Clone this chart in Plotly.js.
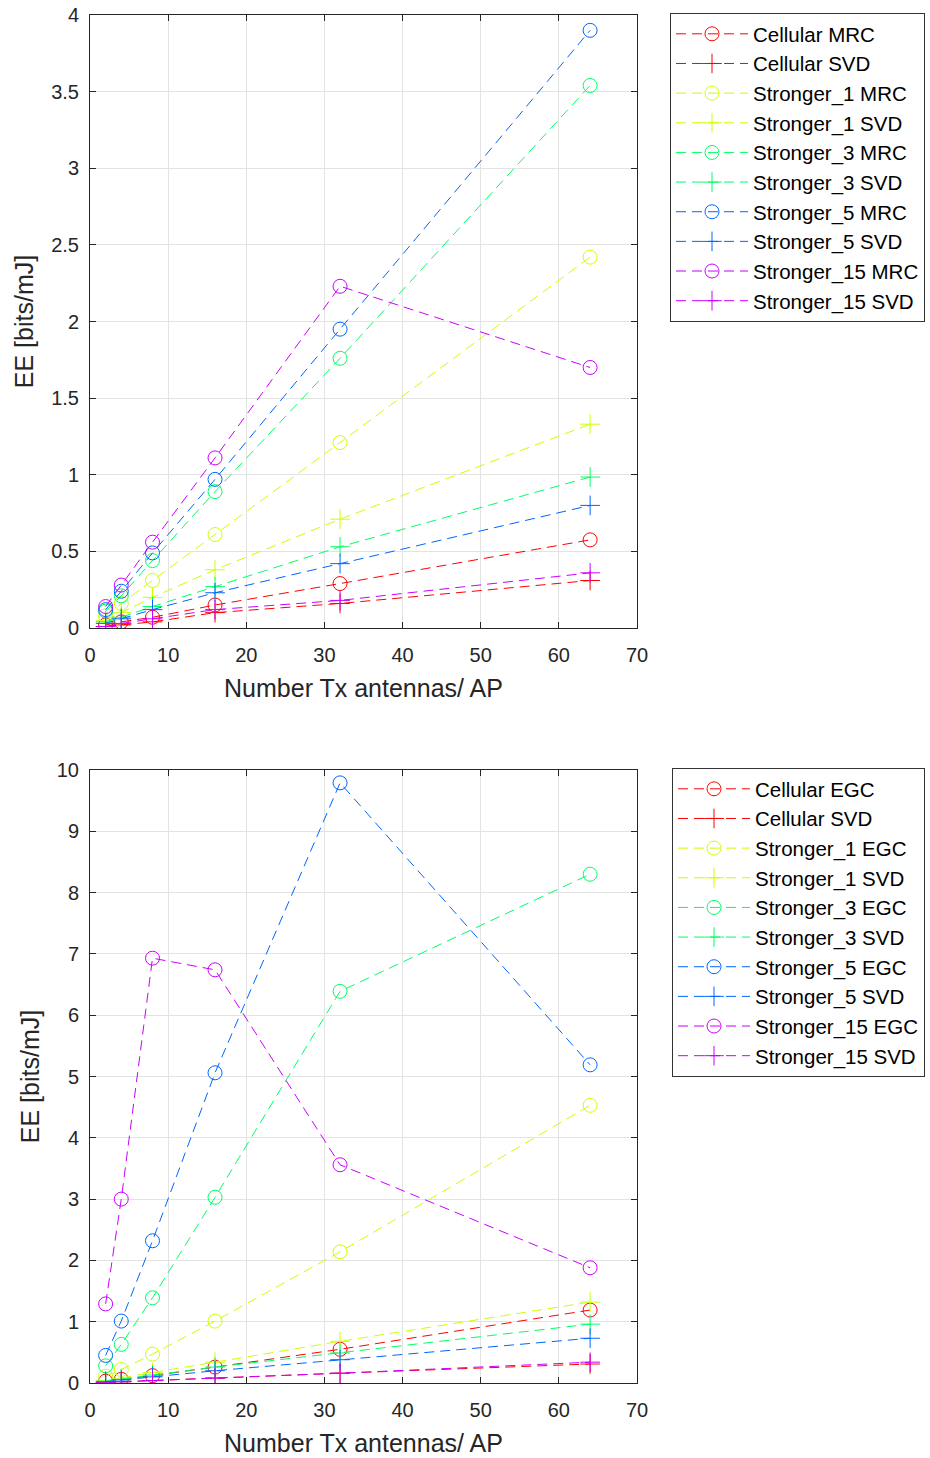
<!DOCTYPE html>
<html>
<head>
<meta charset="utf-8">
<script src="https://cdn.plot.ly/plotly-3.0.1.min.js"></script>
<style>html,body{margin:0;padding:0;background:#fff}#chart{width:930px;height:1458px}</style>
</head>
<body>
<div id="chart"></div>
<script>
// x values: number of Tx antennas per AP
const antennas = [2, 4, 8, 16, 32, 64];

// Top plot (MRC / SVD)
const cellularMRC    = [0.02, 0.04, 0.07, 0.15, 0.29, 0.575];
const cellularSVD1   = [0.01, 0.02, 0.04, 0.10, 0.16, 0.31];
const stronger1MRC   = [0.08, 0.16, 0.31, 0.61, 1.21, 2.42];
const stronger1SVD1  = [0.05, 0.10, 0.20, 0.38, 0.71, 1.33];
const stronger3MRC   = [0.11, 0.21, 0.44, 0.89, 1.76, 3.54];
const stronger3SVD1  = [0.04, 0.07, 0.14, 0.27, 0.53, 0.985];
const stronger5MRC   = [0.12, 0.24, 0.49, 0.97, 1.95, 3.90];
const stronger5SVD1  = [0.03, 0.06, 0.12, 0.23, 0.42, 0.80];
const stronger15MRC  = [0.14, 0.28, 0.56, 1.11, 2.23, 1.70];
const stronger15SVD1 = [0.01, 0.03, 0.06, 0.12, 0.18, 0.36];

// Bottom plot (EGC / SVD)
const cellularEGC    = [0.03, 0.06, 0.12, 0.26, 0.55, 1.19];
const cellularSVD2   = [0.01, 0.02, 0.04, 0.08, 0.16, 0.31];
const stronger1EGC   = [0.11, 0.22, 0.47, 1.01, 2.14, 4.53];
const stronger1SVD2  = [0.04, 0.08, 0.17, 0.34, 0.68, 1.32];
const stronger3EGC   = [0.28, 0.63, 1.39, 3.03, 6.39, 8.30];
const stronger3SVD2  = [0.03, 0.06, 0.13, 0.26, 0.49, 0.96];
const stronger5EGC   = [0.45, 1.01, 2.32, 5.06, 9.79, 5.19];
const stronger5SVD2  = [0.02, 0.05, 0.10, 0.20, 0.38, 0.73];
const stronger15EGC  = [1.29, 3.00, 6.93, 6.74, 3.56, 1.88];
const stronger15SVD2 = [0.01, 0.02, 0.04, 0.08, 0.16, 0.34];

const colors = ['#ff0000', '#ccff00', '#00ff66', '#0066ff', '#cc00ff'];

const topSeries = [
  ['Cellular MRC', cellularMRC, 0, 'o'], ['Cellular SVD', cellularSVD1, 0, '+'],
  ['Stronger_1 MRC', stronger1MRC, 1, 'o'], ['Stronger_1 SVD', stronger1SVD1, 1, '+'],
  ['Stronger_3 MRC', stronger3MRC, 2, 'o'], ['Stronger_3 SVD', stronger3SVD1, 2, '+'],
  ['Stronger_5 MRC', stronger5MRC, 3, 'o'], ['Stronger_5 SVD', stronger5SVD1, 3, '+'],
  ['Stronger_15 MRC', stronger15MRC, 4, 'o'], ['Stronger_15 SVD', stronger15SVD1, 4, '+']
];
const bottomSeries = [
  ['Cellular EGC', cellularEGC, 0, 'o'], ['Cellular SVD', cellularSVD2, 0, '+'],
  ['Stronger_1 EGC', stronger1EGC, 1, 'o'], ['Stronger_1 SVD', stronger1SVD2, 1, '+'],
  ['Stronger_3 EGC', stronger3EGC, 2, 'o'], ['Stronger_3 SVD', stronger3SVD2, 2, '+'],
  ['Stronger_5 EGC', stronger5EGC, 3, 'o'], ['Stronger_5 SVD', stronger5SVD2, 3, '+'],
  ['Stronger_15 EGC', stronger15EGC, 4, 'o'], ['Stronger_15 SVD', stronger15SVD2, 4, '+']
];

function mk(s, xa, ya, leg) {
  const c = colors[s[2]];
  return {
    x: antennas, y: s[1], name: s[0], type: 'scatter', mode: 'lines+markers',
    xaxis: xa, yaxis: ya, legend: leg,
    line: {color: c, width: 1, dash: '10px,6px'},
    marker: {
      symbol: s[3] === 'o' ? 'circle-open' : 'cross-thin-open',
      size: 14, color: c, line: {color: c, width: 1}
    }
  };
}

const data = topSeries.map(s => mk(s, 'x', 'y', 'legend'))
  .concat(bottomSeries.map(s => mk(s, 'x2', 'y2', 'legend2')));

const W = 930, H = 1458;
const axCol = '#262626';
const tickFont = {family: 'Liberation Sans, Arial, sans-serif', size: 20, color: axCol};
const titleFont = {family: 'Liberation Sans, Arial, sans-serif', size: 25, color: axCol};

function xax(anchor) {
  return {
    anchor: anchor, domain: [90 / W, 637 / W], range: [0, 70], dtick: 10, tick0: 0,
    showgrid: true, gridcolor: '#e3e3e3', gridwidth: 1,
    showline: true, linecolor: axCol, linewidth: 1, mirror: 'ticks',
    ticks: 'inside', ticklen: 6, tickcolor: axCol, zeroline: false,
    tickfont: tickFont, ticklabelstandoff: 9,
    title: {text: 'Number Tx antennas/ AP', font: titleFont, standoff: 14}
  };
}
function yax(anchor, dom, rng, dt) {
  return {
    anchor: anchor, domain: dom, range: rng, dtick: dt, tick0: 0,
    showgrid: true, gridcolor: '#e3e3e3', gridwidth: 1,
    showline: true, linecolor: axCol, linewidth: 1, mirror: 'ticks',
    ticks: 'inside', ticklen: 6, tickcolor: axCol, zeroline: false,
    tickfont: tickFont, ticklabelstandoff: 6,
    title: {text: 'EE [bits/mJ]', font: titleFont, standoff: 10}
  };
}

const legFont = {family: 'Liberation Sans, Arial, sans-serif', size: 20.5, color: '#000'};
const layout = {
  width: W, height: H,
  margin: {l: 0, r: 0, t: 0, b: 0},
  paper_bgcolor: '#fff', plot_bgcolor: '#fff',
  showlegend: true,
  xaxis: xax('y'),
  yaxis: yax('x', [1 - 628 / H, 1 - 15 / H], [0, 4], 0.5),
  xaxis2: xax('y2'),
  yaxis2: yax('x2', [1 - 1383 / H, 1 - 770 / H], [0, 10], 1),
  legend: {
    x: 670 / W, y: 1 - 13 / H, xanchor: 'left', yanchor: 'top', itemwidth: 72,
    bgcolor: '#fff', bordercolor: '#333', borderwidth: 1, font: legFont
  },
  legend2: {
    x: 672 / W, y: 1 - 768 / H, xanchor: 'left', yanchor: 'top', itemwidth: 72,
    bgcolor: '#fff', bordercolor: '#333', borderwidth: 1, font: legFont
  }
};

Plotly.newPlot('chart', data, layout, {displayModeBar: false, staticPlot: true});
</script>
</body>
</html>
